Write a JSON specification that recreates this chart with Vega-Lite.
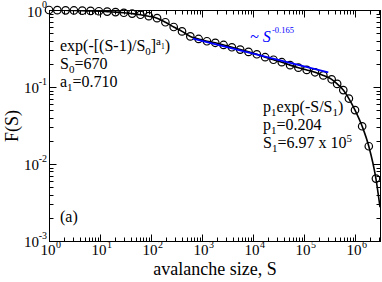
{
  "$schema": "https://vega.github.io/schema/vega-lite/v6.json",
  "width": 331,
  "height": 231,
  "autosize": {"type": "none"},
  "padding": {"left": 49, "top": 10, "right": 2, "bottom": 41},
  "background": "white",
  "config": {
    "view": {"stroke": "black", "strokeWidth": 1},
    "font": "Liberation Serif",
    "axis": {"domainColor": "black", "tickColor": "black", "grid": false, "labels": false, "domainWidth": 1, "tickWidth": 1}
  },
  "datasets": {
    "pts": [
      {"S": 1, "F": 1.0}, {"S": 1.455, "F": 0.9954}, {"S": 2.118, "F": 0.9908}, {"S": 3.083, "F": 0.9863},
      {"S": 4.487, "F": 0.9795}, {"S": 6.531, "F": 0.9727}, {"S": 9.506, "F": 0.9638}, {"S": 13.84, "F": 0.9528},
      {"S": 20.14, "F": 0.9397}, {"S": 29.31, "F": 0.9204}, {"S": 42.66, "F": 0.8974}, {"S": 62.09, "F": 0.867},
      {"S": 90.36, "F": 0.8318}, {"S": 131.5, "F": 0.7834}, {"S": 191.4, "F": 0.6934}, {"S": 278.6, "F": 0.6012},
      {"S": 405.5, "F": 0.5272}, {"S": 590.2, "F": 0.4539}, {"S": 859.0, "F": 0.4207}, {"S": 1250, "F": 0.3926},
      {"S": 1820, "F": 0.375}, {"S": 2649, "F": 0.3516}, {"S": 3855, "F": 0.3281}, {"S": 5610, "F": 0.3062},
      {"S": 8166, "F": 0.2858}, {"S": 11885, "F": 0.2661}, {"S": 17298, "F": 0.2438}, {"S": 25177, "F": 0.2259},
      {"S": 36644, "F": 0.2099}, {"S": 53333, "F": 0.1923}, {"S": 77625, "F": 0.1782}, {"S": 112980, "F": 0.1667},
      {"S": 164437, "F": 0.1552}, {"S": 239332, "F": 0.1413}, {"S": 348337, "F": 0.1259}, {"S": 446684, "F": 0.1096},
      {"S": 588844, "F": 0.0912}, {"S": 758578, "F": 0.0708}, {"S": 1000000, "F": 0.0501}, {"S": 1380384, "F": 0.0309},
      {"S": 1862087, "F": 0.017}, {"S": 2570396, "F": 0.00646}
    ],
    "curve": [
      {"S": 1, "F": 1.0}, {"S": 1.455, "F": 0.9954}, {"S": 2.118, "F": 0.9908}, {"S": 3.083, "F": 0.9863},
      {"S": 4.487, "F": 0.9795}, {"S": 6.531, "F": 0.9727}, {"S": 9.506, "F": 0.9638}, {"S": 13.84, "F": 0.9528},
      {"S": 20.14, "F": 0.9397}, {"S": 29.31, "F": 0.9204}, {"S": 42.66, "F": 0.8974}, {"S": 62.09, "F": 0.867},
      {"S": 90.36, "F": 0.8318}, {"S": 131.5, "F": 0.7834}, {"S": 191.4, "F": 0.6934}, {"S": 278.6, "F": 0.6012},
      {"S": 405.5, "F": 0.5272}, {"S": 590.2, "F": 0.4539}, {"S": 859.0, "F": 0.4207}, {"S": 1250, "F": 0.3926},
      {"S": 1820, "F": 0.375}, {"S": 2649, "F": 0.3516}, {"S": 3855, "F": 0.3281}, {"S": 5610, "F": 0.3062},
      {"S": 8166, "F": 0.2858}, {"S": 11885, "F": 0.2661}, {"S": 17298, "F": 0.2438}, {"S": 25177, "F": 0.2259},
      {"S": 36644, "F": 0.2099}, {"S": 53333, "F": 0.1923}, {"S": 77625, "F": 0.1782}, {"S": 112980, "F": 0.1667},
      {"S": 164437, "F": 0.1552}, {"S": 239332, "F": 0.1413}, {"S": 348337, "F": 0.1259}, {"S": 446684, "F": 0.1096},
      {"S": 588844, "F": 0.0912}, {"S": 758578, "F": 0.0708}, {"S": 1000000, "F": 0.0501}, {"S": 1380384, "F": 0.0309},
      {"S": 1862087, "F": 0.017}, {"S": 2570396, "F": 0.00646}, {"S": 3090000, "F": 0.00275}
    ],
    "fit": [{"S": 664, "F": 0.4236}, {"S": 299000, "F": 0.1543}],
    "main": [
      {"S": 1.643, "F": 0.2935, "t": "exp(-[(S-1)/S"},
      {"S": 99.1, "F": 0.2935, "t": "]"},
      {"S": 186.5, "F": 0.2935, "t": ")"},
      {"S": 1.643, "F": 0.1713, "t": "S"},
      {"S": 3.148, "F": 0.1713, "t": "=670"},
      {"S": 1.643, "F": 0.1, "t": "a"},
      {"S": 2.902, "F": 0.1, "t": "=0.710"},
      {"S": 15710, "F": 0.04733, "t": "p"},
      {"S": 28900, "F": 0.04733, "t": "exp(-S/S"},
      {"S": 464500, "F": 0.04733, "t": ")"},
      {"S": 15710, "F": 0.02764, "t": "p"},
      {"S": 28900, "F": 0.02764, "t": "=0.204"},
      {"S": 15710, "F": 0.01614, "t": "S"},
      {"S": 30080, "F": 0.01614, "t": "=6.97 x 10"},
      {"S": 1.643, "F": 0.001765, "t": "(a)"}
    ],
    "sub": [
      {"S": 77.3, "F": 0.2935, "t": "0"},
      {"S": 2.455, "F": 0.1713, "t": "0"},
      {"S": 2.264, "F": 0.1, "t": "1"},
      {"S": 22540, "F": 0.04733, "t": "1"},
      {"S": 362200, "F": 0.04733, "t": "1"},
      {"S": 22540, "F": 0.02764, "t": "1"},
      {"S": 23480, "F": 0.01614, "t": "1"}
    ],
    "sup": [
      {"S": 125.9, "F": 0.2935, "t": "a"},
      {"S": 678300, "F": 0.01614, "t": "5"}
    ],
    "tiny": [{"S": 157.0, "F": 0.2935, "t": "1"}],
    "bluemain": [{"S": 8730, "F": 0.3842, "t": "~ S"}],
    "bluesup": [{"S": 23580, "F": 0.3842, "t": "-0.165"}],
    "xlab": [
      {"v": 1, "e": "0"}, {"v": 10, "e": "1"}, {"v": 100, "e": "2"}, {"v": 1000, "e": "3"},
      {"v": 10000, "e": "4"}, {"v": 100000, "e": "5"}, {"v": 1000000, "e": "6"}
    ],
    "ylab": [
      {"v": 1, "e": "0"}, {"v": 0.1, "e": "-1"}, {"v": 0.01, "e": "-2"}, {"v": 0.001, "e": "-3"}
    ]
  },
  "layer": [
    {
      "data": {"name": "curve"},
      "mark": {"type": "line", "color": "black", "strokeWidth": 1.6, "interpolate": "monotone", "clip": true},
      "encoding": {
        "x": {"field": "S", "type": "quantitative", "scale": {"type": "log", "domain": [1, 3090000], "nice": false},
          "axis": {"orient": "bottom", "values": [1,2,3,4,5,6,7,8,9,10,20,30,40,50,60,70,80,90,100,200,300,400,500,600,700,800,900,1000,2000,3000,4000,5000,6000,7000,8000,9000,10000,20000,30000,40000,50000,60000,70000,80000,90000,100000,200000,300000,400000,500000,600000,700000,800000,900000,1000000,2000000,3000000],
            "tickSize": {"condition": {"test": "abs(log(datum.value)/LN10 - round(log(datum.value)/LN10)) < 0.001", "value": -7}, "value": -4},
            "title": "avalanche size, S", "titleFont": "Liberation Serif", "titleFontSize": 18, "titleFontWeight": "normal", "titleColor": "black", "titlePadding": 19}},
        "y": {"field": "F", "type": "quantitative", "scale": {"type": "log", "domain": [0.001, 1], "nice": false},
          "axis": {"orient": "left", "values": [0.001,0.002,0.003,0.004,0.005,0.006,0.007,0.008,0.009,0.01,0.02,0.03,0.04,0.05,0.06,0.07,0.08,0.09,0.1,0.2,0.3,0.4,0.5,0.6,0.7,0.8,0.9,1],
            "tickSize": {"condition": {"test": "abs(log(datum.value)/LN10 - round(log(datum.value)/LN10)) < 0.001", "value": -7}, "value": -4},
            "title": "F(S)", "titleFont": "Liberation Serif", "titleFontSize": 18, "titleFontWeight": "normal", "titleColor": "black", "titlePadding": 27}}
      }
    },
    {
      "data": {"name": "pts"},
      "mark": {"type": "point", "shape": "circle", "filled": false, "stroke": "black", "strokeWidth": 1.2, "size": 56, "opacity": 1},
      "encoding": {
        "x": {"field": "S", "type": "quantitative", "scale": {"type": "log", "domain": [1, 3090000], "nice": false},
          "axis": {"orient": "top", "title": null, "values": [1,2,3,4,5,6,7,8,9,10,20,30,40,50,60,70,80,90,100,200,300,400,500,600,700,800,900,1000,2000,3000,4000,5000,6000,7000,8000,9000,10000,20000,30000,40000,50000,60000,70000,80000,90000,100000,200000,300000,400000,500000,600000,700000,800000,900000,1000000,2000000,3000000],
            "tickSize": {"condition": {"test": "abs(log(datum.value)/LN10 - round(log(datum.value)/LN10)) < 0.001", "value": -7}, "value": -4}}},
        "y": {"field": "F", "type": "quantitative", "scale": {"type": "log", "domain": [0.001, 1], "nice": false},
          "axis": {"orient": "right", "title": null, "values": [0.001,0.002,0.003,0.004,0.005,0.006,0.007,0.008,0.009,0.01,0.02,0.03,0.04,0.05,0.06,0.07,0.08,0.09,0.1,0.2,0.3,0.4,0.5,0.6,0.7,0.8,0.9,1],
            "tickSize": {"condition": {"test": "abs(log(datum.value)/LN10 - round(log(datum.value)/LN10)) < 0.001", "value": -7}, "value": -4}}}
      }
    },
    {
      "data": {"name": "fit"},
      "mark": {"type": "line", "color": "#0000ff", "strokeWidth": 1.8},
      "encoding": {
        "x": {"field": "S", "type": "quantitative", "scale": {"type": "log", "domain": [1, 3090000], "nice": false}, "axis": null},
        "y": {"field": "F", "type": "quantitative", "scale": {"type": "log", "domain": [0.001, 1], "nice": false}, "axis": null}
      }
    },
    {
      "data": {"name": "main"},
      "mark": {"type": "text", "align": "left", "baseline": "alphabetic", "font": "Liberation Serif", "fontSize": 16, "color": "black"},
      "encoding": {
        "x": {"field": "S", "type": "quantitative", "scale": {"type": "log", "domain": [1, 3090000], "nice": false}, "axis": null},
        "y": {"field": "F", "type": "quantitative", "scale": {"type": "log", "domain": [0.001, 1], "nice": false}, "axis": null},
        "text": {"field": "t"}
      }
    },
    {
      "data": {"name": "sub"},
      "mark": {"type": "text", "align": "left", "baseline": "alphabetic", "font": "Liberation Serif", "fontSize": 11, "dy": 4, "color": "black"},
      "encoding": {
        "x": {"field": "S", "type": "quantitative", "scale": {"type": "log", "domain": [1, 3090000], "nice": false}, "axis": null},
        "y": {"field": "F", "type": "quantitative", "scale": {"type": "log", "domain": [0.001, 1], "nice": false}, "axis": null},
        "text": {"field": "t"}
      }
    },
    {
      "data": {"name": "sup"},
      "mark": {"type": "text", "align": "left", "baseline": "alphabetic", "font": "Liberation Serif", "fontSize": 11, "dy": -6, "color": "black"},
      "encoding": {
        "x": {"field": "S", "type": "quantitative", "scale": {"type": "log", "domain": [1, 3090000], "nice": false}, "axis": null},
        "y": {"field": "F", "type": "quantitative", "scale": {"type": "log", "domain": [0.001, 1], "nice": false}, "axis": null},
        "text": {"field": "t"}
      }
    },
    {
      "data": {"name": "tiny"},
      "mark": {"type": "text", "align": "left", "baseline": "alphabetic", "font": "Liberation Serif", "fontSize": 7.5, "dy": -2, "color": "black"},
      "encoding": {
        "x": {"field": "S", "type": "quantitative", "scale": {"type": "log", "domain": [1, 3090000], "nice": false}, "axis": null},
        "y": {"field": "F", "type": "quantitative", "scale": {"type": "log", "domain": [0.001, 1], "nice": false}, "axis": null},
        "text": {"field": "t"}
      }
    },
    {
      "data": {"name": "bluemain"},
      "mark": {"type": "text", "align": "left", "baseline": "alphabetic", "font": "Liberation Serif", "fontSize": 16, "fontStyle": "italic", "color": "#0000ff"},
      "encoding": {
        "x": {"field": "S", "type": "quantitative", "scale": {"type": "log", "domain": [1, 3090000], "nice": false}, "axis": null},
        "y": {"field": "F", "type": "quantitative", "scale": {"type": "log", "domain": [0.001, 1], "nice": false}, "axis": null},
        "text": {"field": "t"}
      }
    },
    {
      "data": {"name": "bluesup"},
      "mark": {"type": "text", "align": "left", "baseline": "alphabetic", "font": "Liberation Serif", "fontSize": 8.5, "dy": -9, "color": "#0000ff"},
      "encoding": {
        "x": {"field": "S", "type": "quantitative", "scale": {"type": "log", "domain": [1, 3090000], "nice": false}, "axis": null},
        "y": {"field": "F", "type": "quantitative", "scale": {"type": "log", "domain": [0.001, 1], "nice": false}, "axis": null},
        "text": {"field": "t"}
      }
    },
    {
      "data": {"name": "xlab"},
      "mark": {"type": "text", "align": "center", "baseline": "alphabetic", "font": "Liberation Serif", "fontSize": 15, "dy": 14, "dx": -1, "color": "black"},
      "encoding": {
        "x": {"field": "v", "type": "quantitative", "scale": {"type": "log", "domain": [1, 3090000], "nice": false}, "axis": null},
        "y": {"datum": 0.001, "type": "quantitative", "scale": {"type": "log", "domain": [0.001, 1], "nice": false}, "axis": null},
        "text": {"value": "10"}
      }
    },
    {
      "data": {"name": "xlab"},
      "mark": {"type": "text", "align": "left", "baseline": "alphabetic", "font": "Liberation Serif", "fontSize": 10, "dy": 7, "dx": 7, "color": "black"},
      "encoding": {
        "x": {"field": "v", "type": "quantitative", "scale": {"type": "log", "domain": [1, 3090000], "nice": false}, "axis": null},
        "y": {"datum": 0.001, "type": "quantitative", "scale": {"type": "log", "domain": [0.001, 1], "nice": false}, "axis": null},
        "text": {"field": "e"}
      }
    },
    {
      "data": {"name": "ylab"},
      "transform": [{"filter": "datum.e != '0'"}],
      "mark": {"type": "text", "align": "right", "baseline": "alphabetic", "font": "Liberation Serif", "fontSize": 15, "dy": 6, "dx": -10, "color": "black"},
      "encoding": {
        "x": {"datum": 1, "type": "quantitative", "scale": {"type": "log", "domain": [1, 3090000], "nice": false}, "axis": null},
        "y": {"field": "v", "type": "quantitative", "scale": {"type": "log", "domain": [0.001, 1], "nice": false}, "axis": null},
        "text": {"value": "10"}
      }
    },
    {
      "data": {"name": "ylab"},
      "transform": [{"filter": "datum.e == '0'"}],
      "mark": {"type": "text", "align": "right", "baseline": "alphabetic", "font": "Liberation Serif", "fontSize": 15, "dy": 7, "dx": -7, "color": "black"},
      "encoding": {
        "x": {"datum": 1, "type": "quantitative", "scale": {"type": "log", "domain": [1, 3090000], "nice": false}, "axis": null},
        "y": {"field": "v", "type": "quantitative", "scale": {"type": "log", "domain": [0.001, 1], "nice": false}, "axis": null},
        "text": {"value": "10"}
      }
    },
    {
      "data": {"name": "ylab"},
      "mark": {"type": "text", "align": "right", "baseline": "alphabetic", "font": "Liberation Serif", "fontSize": 10, "dy": -2, "dx": -2, "color": "black"},
      "encoding": {
        "x": {"datum": 1, "type": "quantitative", "scale": {"type": "log", "domain": [1, 3090000], "nice": false}, "axis": null},
        "y": {"field": "v", "type": "quantitative", "scale": {"type": "log", "domain": [0.001, 1], "nice": false}, "axis": null},
        "text": {"field": "e"}
      }
    }
  ],
  "resolve": {"axis": {"x": "independent", "y": "independent"}}
}
